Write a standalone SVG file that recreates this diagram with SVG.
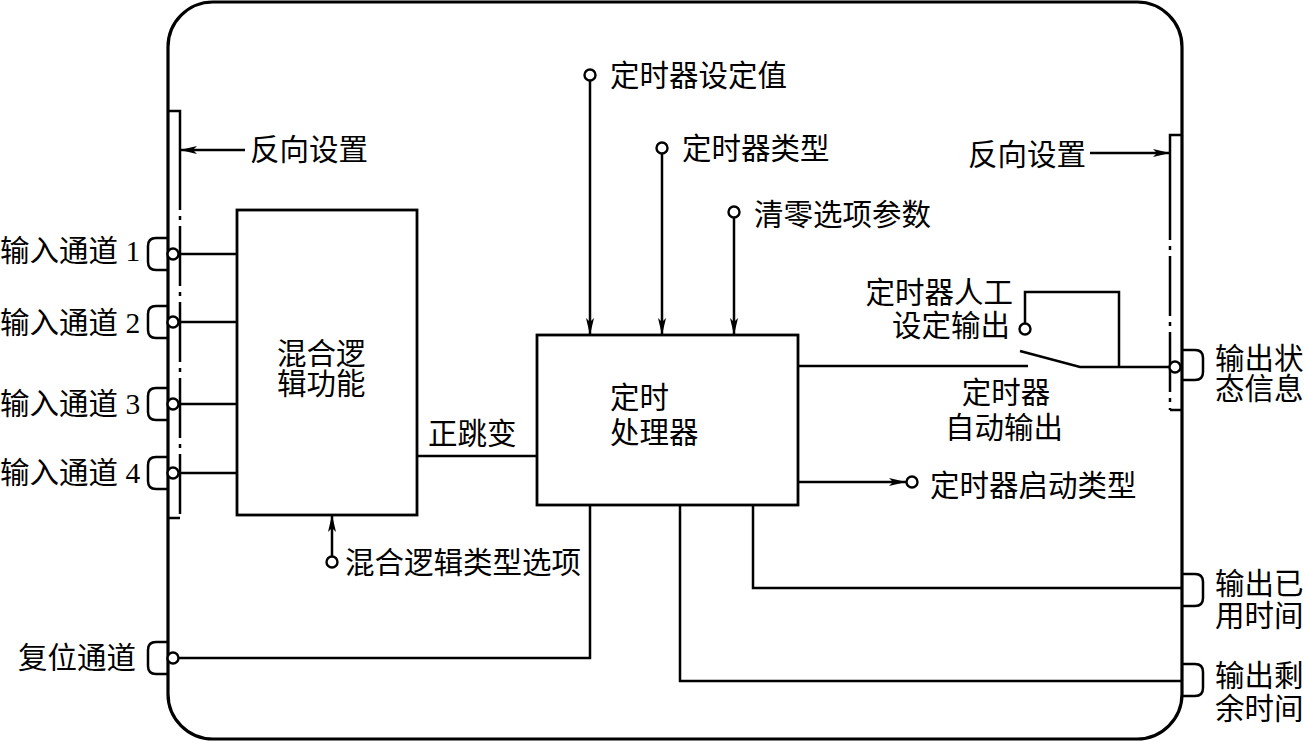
<svg xmlns="http://www.w3.org/2000/svg" width="1305" height="742" viewBox="0 0 1305 742">
<style>
text{font-family:"Liberation Serif","Noto Sans CJK SC",serif;font-size:29.5px;fill:#000}
.ln{fill:none;stroke:#000;stroke-width:2.5}
.bx{fill:#fff;stroke:#000;stroke-width:2.8}
.term{fill:#fff;stroke:#000;stroke-width:2.4}
.dd{fill:none;stroke:#000;stroke-width:2.5;stroke-dasharray:60 6 4 6}
</style>
<defs>
<marker id="arr" markerUnits="userSpaceOnUse" markerWidth="18" markerHeight="10" refX="17" refY="4" orient="auto">
<path d="M0,0 L17,4 L0,8 L4,4 Z" fill="#000"/>
</marker>
</defs>
<rect id="frame" x="168" y="2" width="1014" height="737" rx="45" fill="#fff" stroke="#000" stroke-width="3.2"/>

<g id="left-strip">
<path class="ln" d="M168,111 H180 V150"/>
<path class="dd" d="M180,150 V518"/>
<path class="ln" d="M168,518 H180"/>
</g>
<g id="right-strip">
<path class="ln" d="M1182,135 H1170 V180"/>
<path class="dd" d="M1170,180 V410"/>
<path class="ln" d="M1170,410 H1182"/>
</g>

<g id="connectors">
<path class="ln" d="M173,254 H237"/>
<path class="ln" d="M173,322 H237"/>
<path class="ln" d="M173,404 H237"/>
<path class="ln" d="M173,473 H237"/>
<path class="ln" d="M417,456 H537"/>
<path class="ln" d="M590,80 V335" marker-end="url(#arr)"/>
<path class="ln" d="M662,153 V335" marker-end="url(#arr)"/>
<path class="ln" d="M734,217 V335" marker-end="url(#arr)"/>
<path class="ln" d="M332,557 V515" marker-end="url(#arr)"/>
<path class="ln" d="M173,658 H590 V505"/>
<path class="ln" d="M753,505 V588 H1183"/>
<path class="ln" d="M680,505 V681 H1183"/>
<path class="ln" d="M798,482 H906" marker-end="url(#arr)"/>
<path class="ln" d="M798,366 H1028"/>
<path class="ln" d="M1020,351 L1080,367 H1175"/>
<path class="ln" d="M1025,324 V292 H1119 V367"/>
<path class="ln" d="M245,150 H180" marker-end="url(#arr)"/>
<path class="ln" d="M1090,153 H1170" marker-end="url(#arr)"/>
</g>

<g id="input1"><path class="ln" d="M168,238 H156 Q148,238 148,246 V262 Q148,270 156,270 H168"/><circle class="term" cx="173" cy="254" r="5.5"/><text x="0" y="261">输入通道 1</text></g>
<g id="input2"><path class="ln" d="M168,306 H156 Q148,306 148,314 V330 Q148,338 156,338 H168"/><circle class="term" cx="173" cy="322" r="5.5"/><text x="0" y="333">输入通道 2</text></g>
<g id="input3"><path class="ln" d="M168,388 H156 Q148,388 148,396 V412 Q148,420 156,420 H168"/><circle class="term" cx="173" cy="404" r="5.5"/><text x="0" y="414">输入通道 3</text></g>
<g id="input4"><path class="ln" d="M168,457 H156 Q148,457 148,465 V481 Q148,489 156,489 H168"/><circle class="term" cx="173" cy="473" r="5.5"/><text x="0" y="483">输入通道 4</text></g>
<g id="reset"><path class="ln" d="M168,642 H156 Q148,642 148,650 V666 Q148,674 156,674 H168"/><circle class="term" cx="173" cy="658" r="5.5"/><text x="18" y="668">复位通道</text></g>

<g id="invert-left"><text x="250" y="160">反向设置</text></g>
<g id="invert-right"><text x="968" y="165">反向设置</text></g>

<g id="logic"><rect class="bx" x="237" y="210" width="180" height="305"/><text x="277" y="364">混合逻</text><text x="277" y="394">辑功能</text></g>
<g id="edge-label"><text x="428" y="444">正跳变</text></g>
<g id="logic-type"><circle class="term" cx="332" cy="562" r="5.5"/><text x="345" y="573">混合逻辑类型选项</text></g>

<g id="timer"><rect class="bx" x="537" y="335" width="261" height="170"/><text x="610" y="408">定时</text><text x="610" y="443">处理器</text></g>

<g id="setpoint"><circle class="term" cx="590" cy="75" r="5.5"/><text x="610" y="86">定时器设定值</text></g>
<g id="timer-type"><circle class="term" cx="662" cy="148" r="5.5"/><text x="682" y="159">定时器类型</text></g>
<g id="clear-param"><circle class="term" cx="734" cy="212" r="5.5"/><text x="754" y="225">清零选项参数</text></g>
<g id="start-type"><circle class="term" cx="912" cy="482" r="5.5"/><text x="930" y="496">定时器启动类型</text></g>

<g id="manual"><circle class="term" cx="1025" cy="329" r="5.5"/><text x="1013" y="303" text-anchor="end">定时器人工</text><text x="1010" y="336" text-anchor="end">设定输出</text></g>
<g id="auto"><text x="1006" y="403" text-anchor="middle">定时器</text><text x="1004" y="438" text-anchor="middle">自动输出</text></g>

<g id="out-status"><path class="ln" d="M1183,350 H1195 Q1203,350 1203,358 V372 Q1203,380 1195,380 H1183"/><circle class="term" cx="1175" cy="367" r="5.5"/><text x="1215" y="369">输出状</text><text x="1215" y="399">态信息</text></g>
<g id="out-elapsed"><path class="ln" d="M1183,574 H1195 Q1203,574 1203,582 V598 Q1203,606 1195,606 H1183"/><text x="1215" y="594">输出已</text><text x="1215" y="626">用时间</text></g>
<g id="out-remain"><path class="ln" d="M1183,664 H1195 Q1203,664 1203,672 V688 Q1203,696 1195,696 H1183"/><text x="1215" y="686">输出剩</text><text x="1215" y="719">余时间</text></g>
</svg>
